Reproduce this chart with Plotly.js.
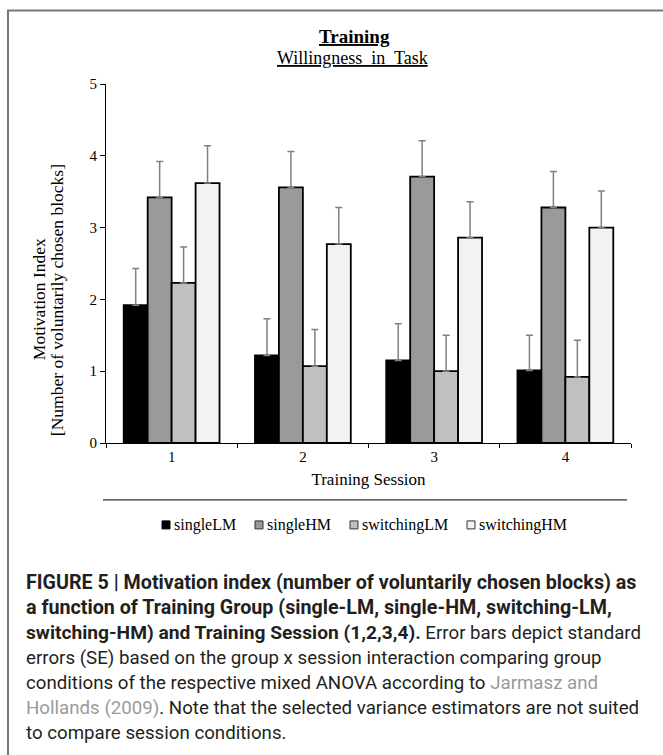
<!DOCTYPE html>
<html>
<head>
<meta charset="utf-8">
<script src="https://cdn.plot.ly/plotly-3.0.1.min.js"></script>
<style>
html,body{margin:0;padding:0;background:#fff;}
#chart{width:663px;height:755px;}
</style>
</head>
<body>
<div id="chart"></div>
<script>
// ---- data ----
const sessions = ['1', '2', '3', '4'];
const groupNames = ['singleLM', 'singleHM', 'switchingLM', 'switchingHM'];
const singleLM = [1.92, 1.22, 1.15, 1.01];
const singleHM = [3.42, 3.56, 3.71, 3.28];
const switchingLM = [2.23, 1.07, 1.00, 0.92];
const switchingHM = [3.62, 2.77, 2.86, 3.00];
const singleLM_se = [0.51, 0.51, 0.51, 0.49];
const singleHM_se = [0.50, 0.50, 0.50, 0.50];
const switchingLM_se = [0.50, 0.51, 0.50, 0.51];
const switchingHM_se = [0.52, 0.51, 0.50, 0.51];
const yTicks = [0, 1, 2, 3, 4, 5];

const captionLines = [
  {bold: true, text: '<b>FIGURE 5 | Motivation index (number of voluntarily chosen blocks) as</b>'},
  {bold: true, text: '<b>a function of Training Group (single-LM, single-HM, switching-LM,</b>'},
  {bold: false, text: '<span style="font-size:19.2px"><b>switching-HM) and Training Session (1,2,3,4).</b></span> Error bars depict standard'},
  {bold: false, text: 'errors (SE) based on the group x session interaction comparing group'},
  {bold: false, text: 'conditions of the respective mixed ANOVA according to <span style="color:#9a9a9a">Jarmasz and</span>'},
  {bold: false, text: '<span style="color:#9a9a9a">Hollands (2009)</span>. Note that the selected variance estimators are not suited'},
  {bold: false, text: 'to compare session conditions.'}
];

// ---- chart ----
const serif = 'Liberation Serif, Times New Roman, serif';
const sans = 'Roboto, Liberation Sans, sans-serif';
const fills = ['#000000', '#9a9a9a', '#c0c0c0', '#f2f2f2'];
const values = [singleLM, singleHM, switchingLM, switchingHM];
const ses = [singleLM_se, singleHM_se, switchingLM_se, switchingHM_se];

const traces = groupNames.map((name, i) => ({
  type: 'bar',
  name: name,
  x: sessions,
  y: values[i],
  marker: {color: fills[i], line: {color: '#000', width: 1.8}},
  error_y: {type: 'data', array: ses[i], arrayminus: ses[i].map(() => 0), symmetric: false,
            color: '#808080', thickness: 1.5, width: 3.5}
}));

// plot area in px: x 106..631, y 83.6..443
const L = 106, R = 631, T = 83.6, B = 443;
const W = R - L, H = B - T;
const px = x => (x - L) / W;
const py = y => (B - y) / H;

const annotations = [
  {text: '<b><u>Training</u></b>', x: px(354), y: py(36), xref: 'paper', yref: 'paper',
   showarrow: false, xanchor: 'center', yanchor: 'middle', font: {family: serif, size: 19, color: '#000'}},
  {text: '<u>Willingness  in  Task</u>', x: px(352), y: py(58), xref: 'paper', yref: 'paper',
   showarrow: false, xanchor: 'center', yanchor: 'middle', font: {family: serif, size: 18, color: '#000'}},
  {text: 'Motivation Index', x: px(39), y: py(299), xref: 'paper', yref: 'paper', textangle: -90,
   showarrow: false, xanchor: 'center', yanchor: 'middle', font: {family: serif, size: 17.5, color: '#000'}},
  {text: '[Number of voluntarily chosen blocks]', x: px(57), y: py(300), xref: 'paper', yref: 'paper', textangle: -90,
   showarrow: false, xanchor: 'center', yanchor: 'middle', font: {family: serif, size: 17.5, color: '#000'}}
];
captionLines.forEach((c, i) => {
  annotations.push({text: c.text, x: px(24), y: py(583 + 25 * i), xref: 'paper', yref: 'paper',
    showarrow: false, xanchor: 'left', yanchor: 'middle', align: 'left',
    font: {family: sans, size: c.bold ? 19.7 : 18.7, color: '#231f20'}});
});

// legend drawn manually to match the compact Excel legend
const legendSymX = [162, 255, 350, 467];
const legendY = 525;
const shapes = [
  {type: 'line', xref: 'paper', yref: 'paper', x0: px(103), x1: px(627), y0: py(500), y1: py(500),
   line: {color: '#000', width: 1}},
  {type: 'rect', xref: 'paper', yref: 'paper', x0: px(8), x1: px(700), y0: py(10), y1: py(800),
   line: {color: '#777', width: 2}, fillcolor: 'rgba(0,0,0,0)'}
];
groupNames.forEach((name, i) => {
  const sx = legendSymX[i];
  shapes.push({type: 'rect', xref: 'paper', yref: 'paper',
    x0: px(sx), x1: px(sx + 8), y0: py(legendY + 4), y1: py(legendY - 4),
    line: {color: i === 0 ? '#000' : '#333', width: 1}, fillcolor: fills[i]});
  annotations.push({text: name, x: px(sx + 10), y: py(legendY), xref: 'paper', yref: 'paper',
    showarrow: false, xanchor: 'left', yanchor: 'middle',
    font: {family: serif, size: 16, color: '#000'}});
});

const layout = {
  width: 663, height: 755,
  margin: {l: L, r: 663 - R, t: T, b: 755 - B, pad: 0},
  paper_bgcolor: '#fff', plot_bgcolor: '#fff',
  barmode: 'group', bargap: 0.27, bargroupgap: 0,
  showlegend: false,
  font: {family: serif, color: '#000'},
  xaxis: {type: 'category', showline: true, linecolor: '#000', linewidth: 1,
          ticks: 'outside', ticklen: 4, tickcolor: '#000', tickson: 'boundaries',
          tickfont: {family: serif, size: 15, color: '#000'}, showgrid: false, zeroline: false,
          title: {text: 'Training Session', font: {family: serif, size: 17, color: '#000'}, standoff: 9}},
  yaxis: {range: [0, 5], tickvals: yTicks, showline: true, linecolor: '#000', linewidth: 1,
          ticks: 'outside', ticklen: 5, tickcolor: '#000', showgrid: false, zeroline: false,
          tickfont: {family: serif, size: 15, color: '#000'}},
  shapes: shapes,
  annotations: annotations
};

Plotly.newPlot('chart', traces, layout, {displayModeBar: false, staticPlot: true});
</script>
</body>
</html>
